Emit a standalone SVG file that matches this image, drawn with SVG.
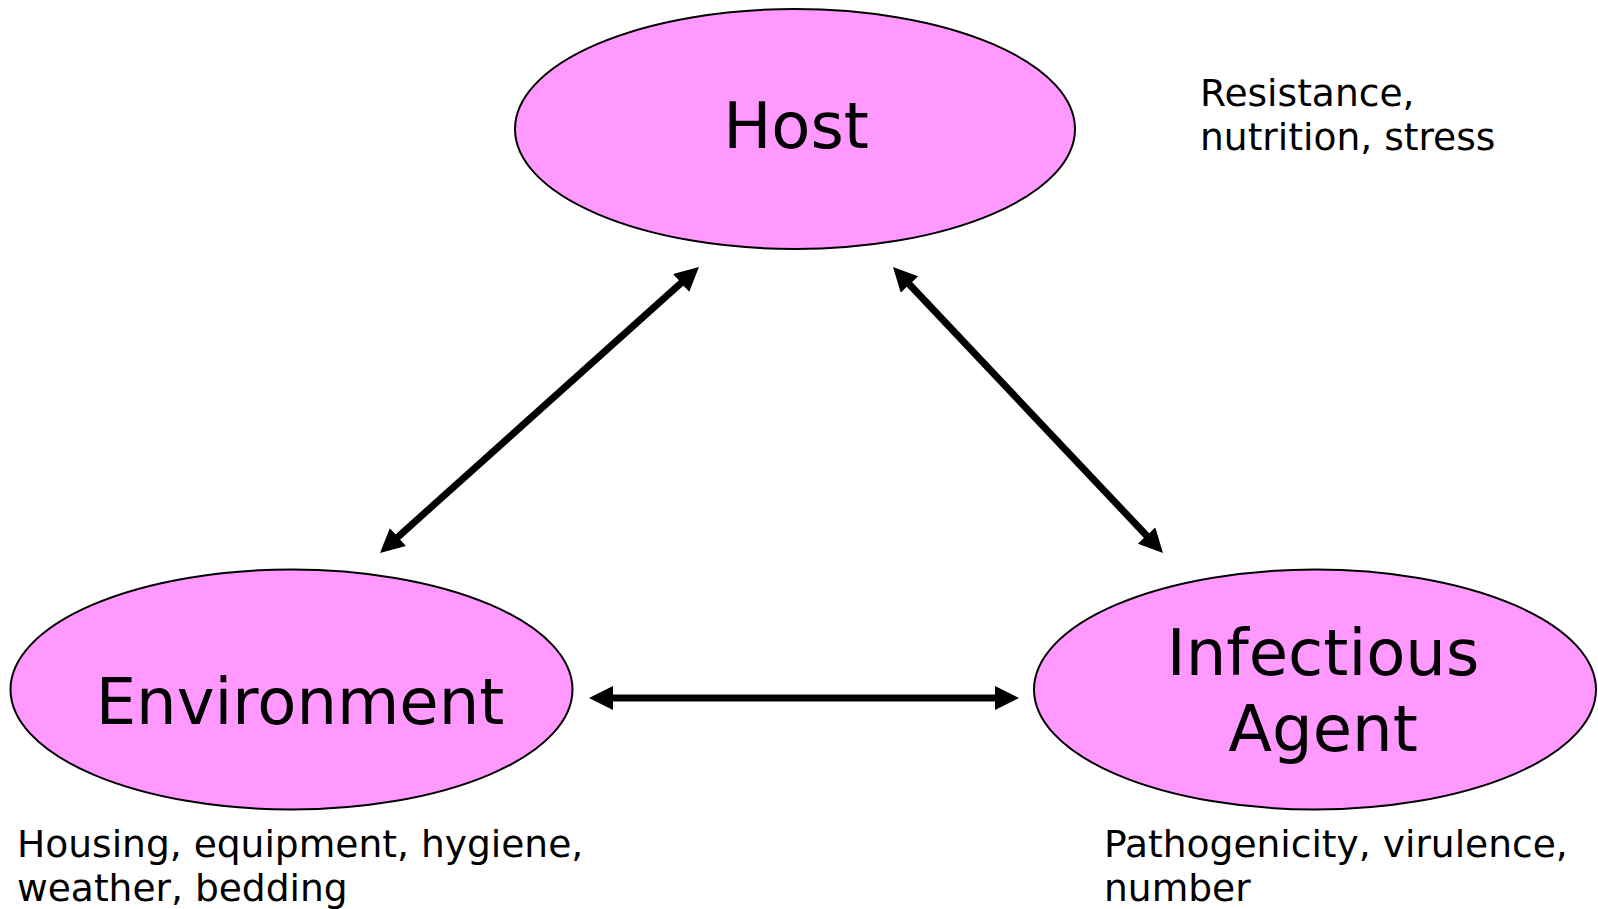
<svg xmlns="http://www.w3.org/2000/svg" width="1598" height="909" viewBox="0 0 1598 909">
<style>
.node ellipse{fill:#FF99FF;stroke:#000;stroke-width:2}
.big{font-family:"DejaVu Sans",Verdana,sans-serif;font-size:64px;fill:#000;text-anchor:middle}
.small{font-family:"DejaVu Sans",Verdana,sans-serif;font-size:37.6px;fill:#000}
.conn line{stroke:#000;stroke-width:7}
</style>
<defs>
<marker id="ah" viewBox="0 0 24 24" markerWidth="24" markerHeight="24" refX="2" refY="12" markerUnits="userSpaceOnUse" orient="auto-start-reverse">
<path d="M0,0 L24,12 L0,24 z" fill="#000"/>
</marker>
</defs>
<rect width="1598" height="909" fill="#fff"/>
<g id="host" class="node">
<ellipse cx="795" cy="129" rx="280" ry="120"/>
<text class="big" x="796" y="148">Host</text>
</g>
<g id="environment" class="node">
<ellipse cx="291.5" cy="689.5" rx="281" ry="120"/>
<text class="big" x="300" y="724">Environment</text>
</g>
<g id="agent" class="node">
<ellipse cx="1315" cy="689.5" rx="281" ry="120"/>
<text class="big" x="1323" y="675">Infectious</text>
<text class="big" x="1323" y="751">Agent</text>
</g>
<g id="host-note">
<text class="small" x="1200" y="106">Resistance,</text>
<text class="small" x="1200" y="150">nutrition, stress</text>
</g>
<g id="environment-note">
<text class="small" x="17" y="857">Housing, equipment, hygiene,</text>
<text class="small" x="17" y="901">weather, bedding</text>
</g>
<g id="agent-note">
<text class="small" x="1104" y="857">Pathogenicity, virulence,</text>
<text class="small" x="1104" y="901">number</text>
</g>
<g id="connectors" class="conn">
<line x1="396.4" y1="538.3" x2="682.6" y2="281.7" marker-start="url(#ah)" marker-end="url(#ah)"/>
<line x1="908.1" y1="283" x2="1147.9" y2="537" marker-start="url(#ah)" marker-end="url(#ah)"/>
<line x1="611" y1="698" x2="997" y2="698" marker-start="url(#ah)" marker-end="url(#ah)"/>
</g>
</svg>
